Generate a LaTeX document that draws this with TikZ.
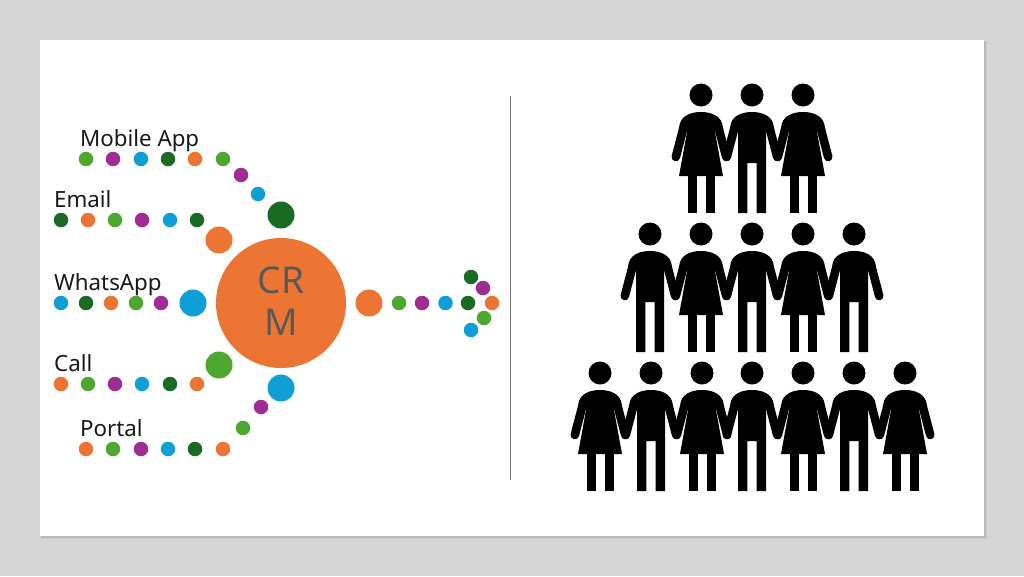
\documentclass[tikz,border=0pt]{standalone}
\usepackage{fontspec}
\setmainfont{Noto Sans}
\definecolor{cOr}{HTML}{ED7533}
\definecolor{cGr}{HTML}{4EA72E}
\definecolor{cPu}{HTML}{A02B93}
\definecolor{cBl}{HTML}{0F9ED5}
\definecolor{cDk}{HTML}{196B24}
\tikzset{
 dot/.style={circle,inner sep=0pt,minimum size=14.5pt,fill=#1},
 bigdot/.style={circle,inner sep=0pt,minimum size=27pt,fill=#1},
 lab/.style={anchor=base west,inner sep=0pt,font=\fontsize{22.3pt}{26pt}\selectfont,text=black!90},
 limb/.style={line width=8.6pt,line cap=round,black},
}
\newcommand{\armsfig}{%
 \draw[limb] (-17.6,33) -- (-25.2,62);
 \draw[limb] (17.6,33) -- (25.2,62);}
\newcommand{\headfig}{\fill (0,0) circle (11.5);}
\newcommand{\shouldersfig}{(-21.8,32) .. controls (-21,22) and (-12,17) .. (0,17) .. controls (12,17) and (21,22) .. (21.8,32)}
\newcommand{\womanfig}[2]{\begin{scope}[shift={(#1,#2)}]
 \headfig\armsfig
 \fill \shouldersfig -- (14,37) -- (22,81) -- (-22,81) -- (-14,37) -- cycle;
 \fill (-13,80) rectangle (-4,118);
 \fill (5,80) rectangle (14,118);
 \end{scope}}
\newcommand{\manfig}[2]{\begin{scope}[shift={(#1,#2)}]
 \headfig\armsfig
 \fill \shouldersfig -- (14,37) -- (14,118) -- (4.7,118) -- (4.7,68) -- (-4.7,68) -- (-4.7,118) -- (-14,118) -- (-14,37) -- cycle;
 \end{scope}}
\begin{document}
\begin{tikzpicture}[x=1pt,y=-1pt]
\useasboundingbox (0,0) rectangle (1024,576);
\fill[gray!32!white] (0,0) rectangle (1024,576);
\fill[black!21] (41,42) rectangle (987,539);
\fill[black!27] (41,41) rectangle (985.5,537.5);
\fill[white] (40,40) rectangle (984,536);
% labels
\node[lab] (lm) at (80,146) {Mobile App};
\node[lab] (le) at (54,207) {Email};
\node[lab] (lw) at (54,290) {WhatsApp};
\node[lab] (lc) at (54,371) {Call};
\node[lab] (lp) at (80,436) {Portal};
% mobile
\foreach \n/\x/\y/\c in {1/86/159/cGr,2/113/159/cPu,3/141/159/cBl,4/168/159/cDk,5/195/159/cOr,6/223/159/cGr,7/241/175/cPu,8/258/194/cBl}
 \node[dot=\c] (m\n) at (\x,\y) {};
\foreach \n/\x/\c in {1/61/cDk,2/88/cOr,3/115/cGr,4/142/cPu,5/170/cBl,6/197/cDk}
 \node[dot=\c] (e\n) at (\x,220) {};
\foreach \n/\x/\c in {1/61/cBl,2/86/cDk,3/111/cOr,4/136/cGr,5/161/cPu}
 \node[dot=\c] (w\n) at (\x,303) {};
\foreach \n/\x/\c in {1/61/cOr,2/88/cGr,3/115/cPu,4/142/cBl,5/170/cDk,6/197/cOr}
 \node[dot=\c] (c\n) at (\x,384) {};
\foreach \n/\x/\y/\c in {1/86/449/cOr,2/113/449/cGr,3/141/449/cPu,4/168/449/cBl,5/195/449/cDk,6/223/449/cOr,7/243/428/cGr,8/261/407/cPu}
 \node[dot=\c] (p\n) at (\x,\y) {};
\node[bigdot=cDk] (bm) at (281,215) {};
\node[bigdot=cOr] (be) at (219,240) {};
\node[bigdot=cBl] (bw) at (193,303) {};
\node[bigdot=cGr] (bc) at (219,365) {};
\node[bigdot=cBl] (bp) at (281,388) {};
\node[circle,inner sep=0pt,minimum size=130pt,fill=cOr] (crm) at (281,303) {};
\node[inner sep=0pt,font=\fontsize{37pt}{42pt}\selectfont,text=black!65,align=center] (crmt) at (281,301) {CR\\M};
\node[bigdot=cOr] (bo) at (369,303) {};
\foreach \n/\x/\y/\c in {1/399/303/cGr,2/422/303/cPu,3/445.5/303/cBl,4/468/303/cDk,5/492/303/cOr,6/471/277/cDk,7/483/288/cPu,8/484/318/cGr,9/471/330/cBl}
 \node[dot=\c] (o\n) at (\x,\y) {};
\coordinate (st) at (510.5,96);
\coordinate (sb) at (510.5,480);
\draw[black!55,line width=1pt] (st) -- (sb);
% people
\womanfig{701}{95}\manfig{752}{95}\womanfig{803}{95}
\manfig{650}{234}\womanfig{701}{234}\manfig{752}{234}\womanfig{803}{234}\manfig{854}{234}
\womanfig{600}{373}\manfig{651}{373}\womanfig{702}{373}\manfig{752}{373}\womanfig{803}{373}\manfig{854}{373}\womanfig{905}{373}
\end{tikzpicture}
\end{document}
